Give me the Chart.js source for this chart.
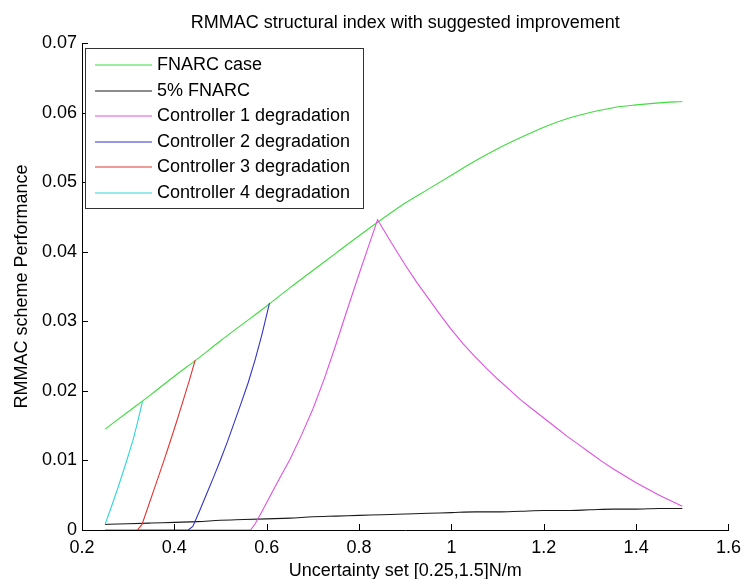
<!DOCTYPE html>
<html>
<head>
<meta charset="utf-8">
<script src="https://cdn.jsdelivr.net/npm/chart.js@4.4.1/dist/chart.umd.min.js"></script>
<style>
  body { margin: 0; background: #fff; }
  canvas { display: block; }
</style>
</head>
<body>
<canvas id="chart" width="748" height="579"></canvas>
<script>
// RMMAC structural index
const xTicks = [0.2, 0.4, 0.6, 0.8, 1.0, 1.2, 1.4, 1.6];
const xTickLabels = ['0.2', '0.4', '0.6', '0.8', '1', '1.2', '1.4', '1.6'];
const yTicks = [0, 0.01, 0.02, 0.03, 0.04, 0.05, 0.06, 0.07];
const yTickLabels = ['0', '0.01', '0.02', '0.03', '0.04', '0.05', '0.06', '0.07'];

const seriesLabels = ['FNARC case', '5% FNARC', 'Controller 1 degradation',
  'Controller 2 degradation', 'Controller 3 degradation', 'Controller 4 degradation'];
const seriesColors = ['#3fdc3f', '#1a1a1a', '#e052e0', '#3434c8', '#e03434', '#2ed6d6'];

// FNARC case and 5% FNARC share the same uncertainty grid
const xGrid = [0.25, 0.30, 0.35, 0.40, 0.45, 0.50, 0.55, 0.60, 0.65, 0.70, 0.75, 0.80, 0.85,
  0.90, 0.95, 1.00, 1.05, 1.10, 1.15, 1.20, 1.25, 1.30, 1.35, 1.40, 1.45, 1.50];
const yFnarc = [0.0145, 0.0170, 0.0195, 0.0221, 0.0246, 0.0272, 0.0297, 0.0322, 0.0348, 0.0373,
  0.0398, 0.0423, 0.0447, 0.0470, 0.0490, 0.0510, 0.0530, 0.0548, 0.0564, 0.0579, 0.0591,
  0.0600, 0.0607, 0.0611, 0.0614, 0.0616];
const yFnarc5 = [0.0008, 0.0009, 0.0010, 0.0011, 0.0012, 0.0014, 0.0015, 0.0016, 0.0017, 0.0019,
  0.0020, 0.0021, 0.0022, 0.0023, 0.0024, 0.0025, 0.0026, 0.0026, 0.0027, 0.0028, 0.0028,
  0.0029, 0.0030, 0.0030, 0.0031, 0.0031];

// controller degradation curves (flat zero part, rise, and for controller 1 the fall)
const xC1 = [0.43, 0.565, 0.575, 0.59, 0.61, 0.63, 0.65, 0.675, 0.70, 0.725, 0.75, 0.775, 0.80,
  0.82, 0.84, 0.87, 0.90, 0.925, 0.95, 0.975, 1.00, 1.025, 1.05, 1.075, 1.10, 1.125, 1.15,
  1.175, 1.20, 1.225, 1.25, 1.275, 1.30, 1.325, 1.35, 1.375, 1.40, 1.425, 1.45, 1.475, 1.50];
const yC1 = [0, 0, 0.0009, 0.0027, 0.0052, 0.0077, 0.0101, 0.0136, 0.0174, 0.0218, 0.0267,
  0.0318, 0.0368, 0.0407, 0.0446, 0.0413, 0.0381, 0.0356, 0.0333, 0.0310, 0.0288, 0.0268,
  0.0250, 0.0233, 0.0217, 0.0202, 0.0187, 0.0174, 0.0161, 0.0148, 0.0135, 0.0123, 0.0111,
  0.0099, 0.0088, 0.0078, 0.0068, 0.0059, 0.0050, 0.0042, 0.0034];
const xC2 = [0.32, 0.43, 0.44, 0.455, 0.47, 0.485, 0.50, 0.515, 0.53, 0.545, 0.56, 0.575, 0.59, 0.606];
const yC2 = [0, 0, 0.0005, 0.0028, 0.0052, 0.0076, 0.0101, 0.0127, 0.0155, 0.0183, 0.0212,
  0.0245, 0.0282, 0.0326];
const xC3 = [0.25, 0.32, 0.33, 0.345, 0.36, 0.375, 0.39, 0.405, 0.42, 0.4325, 0.445];
const yC3 = [0, 0, 0.0008, 0.0037, 0.0066, 0.0095, 0.0125, 0.0156, 0.0188, 0.0215, 0.0244];
const xC4 = [0.25, 0.265, 0.28, 0.295, 0.31, 0.32, 0.331];
const yC4 = [0.0008, 0.0036, 0.0065, 0.0096, 0.0128, 0.0154, 0.0185];

const FONT = '"Liberation Sans", Arial, sans-serif';

function toPoints(xs, ys) {
  return xs.map((x, i) => ({ x: x, y: ys[i] }));
}

const seriesData = [
  toPoints(xGrid, yFnarc),
  toPoints(xGrid, yFnarc5),
  toPoints(xC1, yC1),
  toPoints(xC2, yC2),
  toPoints(xC3, yC3),
  toPoints(xC4, yC4)
];

const datasets = seriesData.map((pts, i) => ({
  label: seriesLabels[i],
  data: pts,
  showLine: true,
  borderColor: seriesColors[i],
  backgroundColor: seriesColors[i],
  borderWidth: 1.1,
  pointRadius: 0,
  // the two smooth FNARC curves get a monotone spline, controller curves keep sharp corners
  cubicInterpolationMode: i < 2 ? 'monotone' : 'default',
  tension: 0,
  order: seriesData.length - i // later series drawn on top, like matlab
}));

// matlab-style tick marks pointing into the axes
const inwardTicks = {
  id: 'inwardTicks',
  afterDatasetsDraw(chart) {
    const { ctx, chartArea, scales } = chart;
    ctx.save();
    ctx.strokeStyle = '#000';
    ctx.lineWidth = 1;
    ctx.beginPath();
    scales.x.ticks.forEach(t => {
      const px = Math.round(scales.x.getPixelForValue(t.value)) + 0.5;
      ctx.moveTo(px, chartArea.bottom);
      ctx.lineTo(px, chartArea.bottom - 6);
    });
    scales.y.ticks.forEach(t => {
      const py = Math.round(scales.y.getPixelForValue(t.value)) + 0.5;
      ctx.moveTo(chartArea.left, py);
      ctx.lineTo(chartArea.left + 6, py);
    });
    ctx.stroke();
    ctx.restore();
  }
};

// boxed legend in the upper left corner of the axes
const boxLegend = {
  id: 'boxLegend',
  afterDatasetsDraw(chart) {
    const { ctx, chartArea } = chart;
    const x0 = Math.round(chartArea.left) + 3;
    const y0 = Math.round(chartArea.top) + 5;
    const w = 278, h = 160, rowH = 25.6;
    ctx.save();
    ctx.fillStyle = '#fff';
    ctx.fillRect(x0, y0, w, h);
    ctx.strokeStyle = '#333';
    ctx.lineWidth = 1;
    ctx.strokeRect(x0 + 0.5, y0 + 0.5, w, h);
    ctx.font = '18px ' + FONT;
    ctx.textBaseline = 'middle';
    chart.data.datasets.forEach((ds, i) => {
      const y = Math.round(y0 + 17 + i * rowH);
      ctx.strokeStyle = ds.borderColor;
      ctx.lineWidth = 1.2;
      ctx.beginPath();
      ctx.moveTo(x0 + 10, y);
      ctx.lineTo(x0 + 67, y);
      ctx.stroke();
      ctx.fillStyle = '#000';
      ctx.fillText(ds.label, x0 + 72, y);
    });
    ctx.restore();
  }
};

new Chart(document.getElementById('chart'), {
  type: 'scatter',
  data: { datasets },
  options: {
    responsive: false,
    animation: false,
    layout: { padding: { left: 0, right: 15, top: 0, bottom: 0 } },
    plugins: {
      legend: { display: false },
      tooltip: { enabled: false },
      title: {
        display: true,
        fullSize: false,
        text: 'RMMAC structural index with suggested improvement',
        color: '#000',
        font: { family: FONT, size: 18, weight: 'normal' },
        padding: { top: 12, bottom: 9.4 }
      }
    },
    scales: {
      x: {
        type: 'linear',
        min: 0.2,
        max: 1.6,
        afterBuildTicks: scale => { scale.ticks = xTicks.map(v => ({ value: v })); },
        afterFit: scale => { scale.height = 49; },
        ticks: {
          callback: (value, index) => xTickLabels[index],
          color: '#000',
          font: { family: FONT, size: 18 },
          padding: 7,
          maxRotation: 0,
          autoSkip: false
        },
        grid: { display: true, drawOnChartArea: false, drawTicks: false },
        border: { display: true, color: '#000', width: 1 },
        title: {
          display: true,
          text: 'Uncertainty set [0.25,1.5]N/m',
          color: '#000',
          font: { family: FONT, size: 18 },
          padding: { top: 0, bottom: -3 }
        }
      },
      y: {
        type: 'linear',
        min: 0,
        max: 0.07,
        afterBuildTicks: scale => { scale.ticks = yTicks.map(v => ({ value: v })); },
        afterFit: scale => { scale.width = 82; },
        ticks: {
          callback: (value, index) => yTickLabels[index],
          color: '#000',
          font: { family: FONT, size: 18 },
          padding: 5,
          autoSkip: false
        },
        grid: { display: true, drawOnChartArea: false, drawTicks: false },
        border: { display: true, color: '#000', width: 1 },
        title: {
          display: true,
          text: 'RMMAC scheme Performance',
          color: '#000',
          font: { family: FONT, size: 18 },
          padding: { top: 11, bottom: 0 }
        }
      }
    }
  },
  plugins: [inwardTicks, boxLegend]
});
</script>
</body>
</html>
